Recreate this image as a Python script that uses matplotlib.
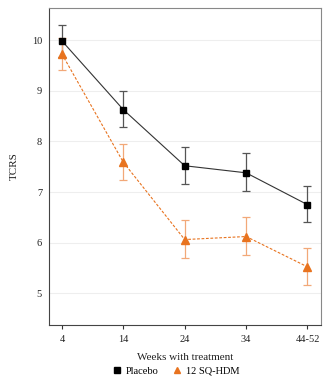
import matplotlib
matplotlib.use("Agg")
import matplotlib.pyplot as plt

# ── Données ──────────────────────────────────────────────
semaines = ["4", "14", "24", "34", "44-52"]

placebo      = [9.99, 8.63, 7.52, 7.38, 6.75]
placebo_haut = [10.31, 9.00, 7.90, 7.77, 7.12]
placebo_bas  = [9.67, 8.28, 7.16, 7.02, 6.40]

hdm      = [9.73, 7.59, 6.06, 6.12, 5.52]
hdm_haut = [10.05, 7.95, 6.45, 6.51, 5.89]
hdm_bas  = [9.41, 7.23, 5.70, 5.75, 5.16]

ORANGE = "#E8731F"

plt.rcParams["font.family"] = ["Liberation Serif", "DejaVu Serif"]

fig = plt.figure(figsize=(3.31, 3.78), dpi=100)
ax = fig.add_axes([49 / 331, 1 - 325 / 378, 272 / 331, 317 / 378])

x = list(range(len(semaines)))

# Placebo
err_p = [[m - b for m, b in zip(placebo, placebo_bas)],
         [h - m for m, h in zip(placebo, placebo_haut)]]
ax.errorbar(x, placebo, yerr=err_p, fmt="none", ecolor="#555555",
            elinewidth=0.9, capsize=3, capthick=0.9, zorder=2)
ax.plot(x, placebo, color="#333333", lw=0.8, zorder=3)
ax.plot(x, placebo, "s", color="black", ms=4.8, ls="none", zorder=4,
        label="Placebo")

# 12 SQ-HDM
err_h = [[m - b for m, b in zip(hdm, hdm_bas)],
         [h - m for m, h in zip(hdm, hdm_haut)]]
ax.errorbar(x, hdm, yerr=err_h, fmt="none", ecolor="#F2A878",
            elinewidth=0.9, capsize=3, capthick=0.9, zorder=2)
ax.plot(x, hdm, color=ORANGE, lw=0.8, ls=(0, (2.5, 1.5)), zorder=3)
ax.plot(x, hdm, "^", color=ORANGE, ms=5.2, ls="none", zorder=4,
        label="12 SQ-HDM")

ax.set_xlim(-0.21, 4.22)
ax.set_ylim(4.37, 10.64)
ax.set_xticks(x)
ax.set_xticklabels(semaines)
ax.set_yticks([5, 6, 7, 8, 9, 10])
ax.tick_params(labelsize=7.5, length=3, width=0.8, colors="#333333",
               labelcolor="#222222", pad=4)
ax.tick_params(axis="y", length=0, pad=5)
ax.grid(axis="y", color="#eeeeee", lw=0.8)
ax.set_axisbelow(True)

for s in ax.spines.values():
    s.set_color("#888888")
    s.set_linewidth(0.8)
ax.spines["left"].set_color("#444444")
ax.spines["bottom"].set_color("#444444")

ax.set_ylabel("TCRS", fontsize=8, color="#222222", labelpad=9)
ax.set_xlabel("Weeks with treatment", fontsize=8, color="#222222", labelpad=7)

fig.legend(loc="center", bbox_to_anchor=(0.53, 1 - 371 / 378), ncol=2,
           frameon=False, fontsize=7.5, handlelength=1, handletextpad=0.4,
           columnspacing=1.2, markerscale=0.9)

fig.savefig("out.png", dpi=100)
